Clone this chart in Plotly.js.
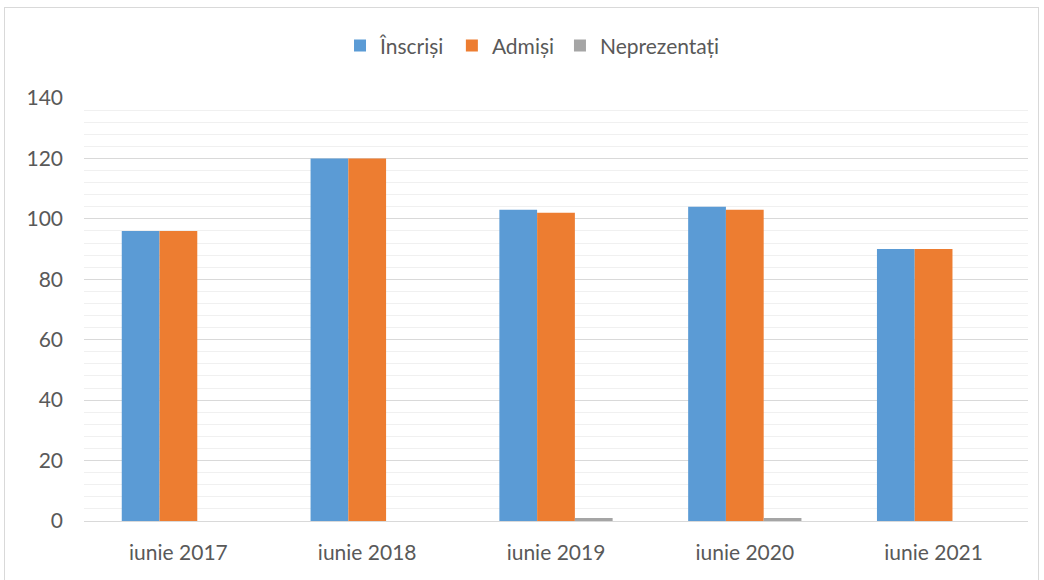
<!DOCTYPE html>
<html>
<head>
<meta charset="utf-8">
<script src="https://cdn.plot.ly/plotly-3.0.1.min.js"></script>
<style>
html,body{margin:0;padding:0;background:#fff;}
#wrap{position:relative;width:1044px;height:580px;}
#chart{width:1044px;height:580px;}
#frame{position:absolute;left:4px;top:7px;width:1035px;height:580px;border:1px solid #d9d9d9;box-sizing:border-box;pointer-events:none;}
</style>
</head>
<body>
<div id="wrap"><div id="chart"></div><div id="frame"></div></div>
<script>
const categories = ["iunie 2017", "iunie 2018", "iunie 2019", "iunie 2020", "iunie 2021"];
const inscrisi = [96, 120, 103, 104, 90];
const admisi = [96, 120, 102, 103, 90];
const neprezentati = [0, 0, 1, 1, 0];
const seriesNames = ["Înscriși", "Admiși", "Neprezentați"];
const colors = ["#5b9bd5", "#ed7d31", "#a5a5a5"];

const font = "Lato, 'Open Sans', sans-serif";
const legendIds = ["legend", "legend2", "legend3"];
const data = [inscrisi, admisi, neprezentati].map((vals, i) => ({
  type: "bar",
  x: categories,
  y: vals,
  name: seriesNames[i],
  legend: legendIds[i],
  marker: {color: colors[i]},
  hoverinfo: "x+y+name"
}));

const legendX = [0.2712, 0.3897, 0.5042];
const mkLegend = (x) => ({
  orientation: "h", x: x, xanchor: "left", y: 1.123, yanchor: "middle",
  font: {family: font, size: 21, color: "#595959"}, itemwidth: 30,
  bgcolor: "rgba(0,0,0,0)"
});

const layout = {
  width: 1044, height: 580,
  margin: {l: 84, r: 16, t: 98, b: 59, autoexpand: false},
  paper_bgcolor: "#fff", plot_bgcolor: "#fff",
  barmode: "group", bargap: 0.4, bargroupgap: 0,
  showlegend: true,
  legend: mkLegend(legendX[0]),
  legend2: mkLegend(legendX[1]),
  legend3: mkLegend(legendX[2]),
  xaxis: {
    type: "category", showgrid: false, showline: true, linecolor: "#d9d9d9", linewidth: 1,
    ticks: "", ticklabelstandoff: 13,
    tickfont: {family: font, size: 21, color: "#595959"}, zeroline: false
  },
  yaxis: {
    range: [0, 140], dtick: 20, tick0: 0, showgrid: true, gridcolor: "#d9d9d9", gridwidth: 1,
    zeroline: true, zerolinecolor: "#d9d9d9", zerolinewidth: 1,
    minor: {dtick: 4, showgrid: true, gridcolor: "#f0f0f0", gridwidth: 1},
    ticks: "", ticklabelstandoff: 20,
    tickfont: {family: font, size: 21, color: "#595959"}
  }
};
Plotly.newPlot("chart", data, layout, {displayModeBar: false});
</script>
</body>
</html>
